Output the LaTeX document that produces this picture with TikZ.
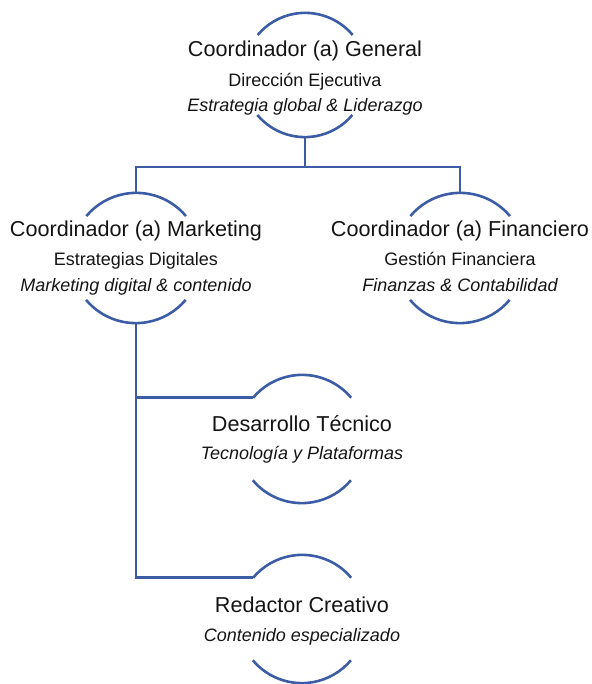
\documentclass[tikz,border=0pt]{standalone}
\usepackage{fontspec}
\setmainfont{Liberation Sans}
\definecolor{linkblue}{RGB}{60,93,166}
\definecolor{txt}{RGB}{20,20,20}
\begin{document}
\begin{tikzpicture}[x=1pt,y=1pt,
  card/.style={circle,inner sep=0pt,draw=none},
  link/.style={draw=linkblue,line width=2.6pt},
  ttl/.style={anchor=base,text=txt,font=\fontsize{21.6}{26}\selectfont},
  sub/.style={anchor=base,text=txt,font=\fontsize{18}{22}\selectfont},
  ita/.style={anchor=base,text=txt,font=\fontsize{18}{22}\selectfont\itshape}]
\useasboundingbox (0,0) rectangle (591,684);
% cards
\node[card,minimum size=124pt] (gen) at (305,609) {};
\node[card,minimum size=130pt] (mkt) at (136,426) {};
\node[card,minimum size=130pt] (fin) at (460,426) {};
\node[card,minimum size=128pt] (des) at (302,245) {};
\node[card,minimum size=128pt] (red) at (302,65) {};
% arcs
\draw[link] (gen.40) arc[start angle=40,end angle=140,radius=62pt];
\draw[link] (gen.220) arc[start angle=220,end angle=320,radius=62pt];
\draw[link] (mkt.40) arc[start angle=40,end angle=140,radius=65pt];
\draw[link] (mkt.220) arc[start angle=220,end angle=320,radius=65pt];
\draw[link] (fin.40) arc[start angle=40,end angle=140,radius=65pt];
\draw[link] (fin.220) arc[start angle=220,end angle=320,radius=65pt];
\draw[link] (des.40) arc[start angle=40,end angle=140,radius=64pt];
\draw[link] (des.220) arc[start angle=220,end angle=320,radius=64pt];
\draw[link] (red.40) arc[start angle=40,end angle=140,radius=64pt];
\draw[link] (red.220) arc[start angle=220,end angle=320,radius=64pt];
% texts
\node[ttl] (gent) at (305,627) {Coordinador (a) General};
\node[sub] (gens) at (305,597) {Dirección Ejecutiva};
\node[ita] (geni) at (305,572) {Estrategia global \& Liderazgo};
\node[ttl] (mktt) at (136,447) {Coordinador (a) Marketing};
\node[sub] (mkts) at (136,418) {Estrategias Digitales};
\node[ita] (mkti) at (136,392) {Marketing digital \& contenido};
\node[ttl] (fint) at (460,447) {Coordinador (a) Financiero};
\node[sub] (fins) at (460,418) {Gestión Financiera};
\node[ita] (fini) at (460,392) {Finanzas \& Contabilidad};
\node[ttl] (dest) at (302,252) {Desarrollo Técnico};
\node[ita] (desi) at (302,224) {Tecnología y Plataformas};
\node[ttl] (redt) at (302,71) {Redactor Creativo};
\node[ita] (redi) at (302,42) {Contenido especializado};
% connectors
\coordinate (bus) at (305,517);
\draw[link] (gen.south) -- (bus);
\draw[link] (mkt.north) |- (bus) -| (fin.north);
\draw[link] (mkt.south) |- (des.140);
\draw[link] (mkt.south) |- (red.140);
\end{tikzpicture}
\end{document}
